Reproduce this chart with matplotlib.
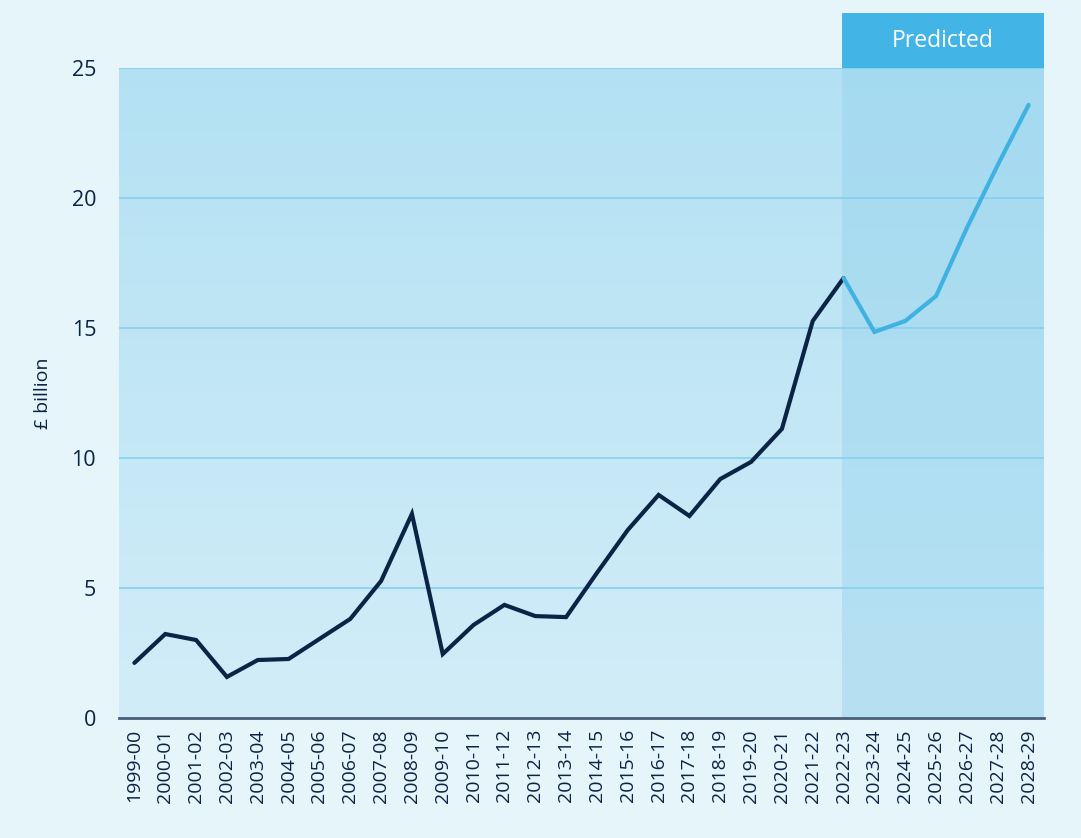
import numpy as np
import matplotlib.pyplot as plt
from matplotlib.colors import LinearSegmentedColormap
from matplotlib.patches import Rectangle

plt.rcParams['font.family'] = ['Open Sans', 'DejaVu Sans']

years = ["1999-00", "2000-01", "2001-02", "2002-03", "2003-04", "2004-05", "2005-06",
         "2006-07", "2007-08", "2008-09", "2009-10", "2010-11", "2011-12", "2012-13",
         "2013-14", "2014-15", "2015-16", "2016-17", "2017-18", "2018-19", "2019-20",
         "2020-21", "2021-22", "2022-23", "2023-24", "2024-25", "2025-26", "2026-27",
         "2027-28", "2028-29"]
actual = [2.12, 3.23, 3.0, 1.58, 2.23, 2.27, 3.04, 3.81, 5.27, 7.85, 2.46, 3.58, 4.35,
          3.92, 3.88, 5.58, 7.23, 8.58, 7.77, 9.19, 9.85, 11.12, 15.27, 16.92]
predicted = [16.92, 14.85, 15.27, 16.23, 18.85, 21.27, 23.58]
yticks = [0, 5, 10, 15, 20, 25]

navy = "#0b2345"
bg = "#e6f5fa"

fig = plt.figure(figsize=(10.81, 8.38), dpi=100, facecolor=bg)
ax = fig.add_axes([119 / 1081, 1 - 718 / 838, (1044 - 119) / 1081, (718 - 68) / 838])
ax.set_facecolor(bg)

x = np.arange(len(years))
ax.set_xlim(-0.5, len(years) - 0.5)
ax.set_ylim(0, 25)

# gradient plot background
cmap = LinearSegmentedColormap.from_list("bgrad", ["#d2edf8", "#b3e1f3"])
grad = np.linspace(0, 1, 256).reshape(-1, 1)
ax.imshow(grad, extent=(-0.5, len(years) - 0.5, 0, 25), origin="lower",
          cmap=cmap, aspect="auto", zorder=0)

# predicted shading and header
p0 = len(actual) - 1 - 0.05
ax.axvspan(p0, len(years) - 0.5, color="#8fd0ec", alpha=0.4, lw=0, zorder=1)
ax.add_patch(Rectangle((p0, 25), len(years) - 0.5 - p0, 55 / 26, color="#43b4e6",
                       clip_on=False, lw=0, zorder=1))
ax.text((p0 + len(years) - 0.5) / 2, 25 + 27 / 26, "Predicted", color="white",
        ha="center", va="center", fontsize=16.5)

for yv in yticks[1:]:
    ax.axhline(yv, color="#86d0ef", lw=1.2, zorder=2)

ax.plot(x[:len(actual)], actual, color=navy, lw=3, zorder=4, solid_capstyle="round",
        solid_joinstyle="miter")
ax.plot(x[len(actual) - 1:], predicted, color="#3fb2e3", lw=3, zorder=4,
        solid_capstyle="round", solid_joinstyle="miter")

ax.set_xticks(x)
ax.set_xticklabels(years, rotation=90, fontsize=14, color=navy)
ax.set_yticks(yticks)
ax.set_yticklabels([str(v) for v in yticks], fontsize=15.5, color=navy)
ax.tick_params(axis="both", length=0)
ax.tick_params(axis="x", pad=8)
ax.tick_params(axis="y", pad=16.5)
for s in ["top", "right", "left"]:
    ax.spines[s].set_visible(False)
ax.spines["bottom"].set_color("#4a5e78")
ax.spines["bottom"].set_linewidth(2)
ax.spines["bottom"].set_zorder(5)

ax.set_ylabel("£ billion", fontsize=14, color=navy, labelpad=14)

fig.savefig("out.png", dpi=100, facecolor=bg)
